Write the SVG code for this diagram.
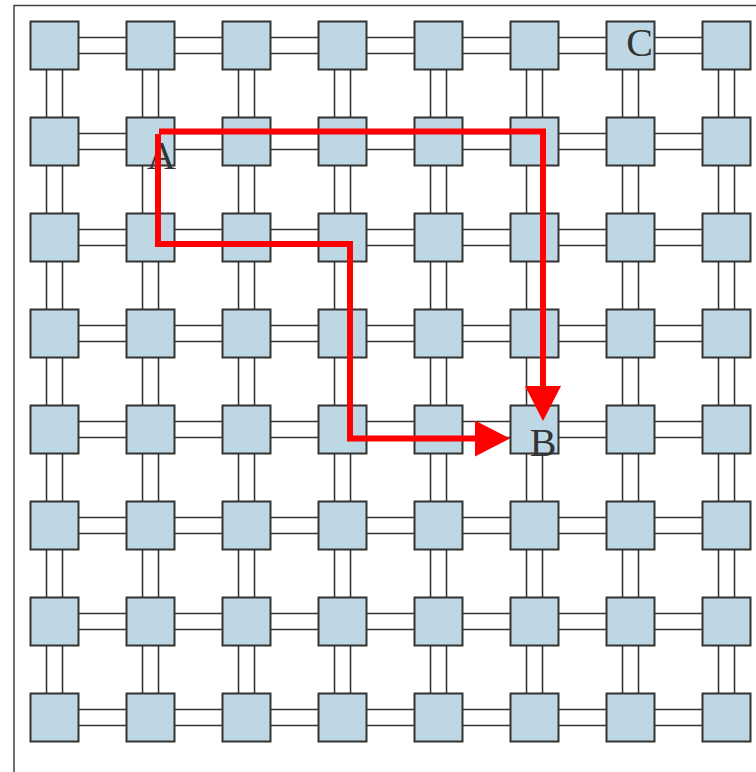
<svg xmlns="http://www.w3.org/2000/svg" width="756" height="772" viewBox="0 0 756 772">
<style>
.frame{fill:none;stroke:#444;stroke-width:1.5}
.node rect{fill:#bed7e4;stroke:#333;stroke-width:2}
.conn path{fill:none;stroke:#333;stroke-width:1.6}
.lbl{font-family:"Liberation Serif","Times New Roman",serif;font-size:40px;fill:#333;text-anchor:middle}
.route{fill:none;stroke:#ff0000;stroke-width:6;stroke-linejoin:miter}
</style>
<defs>
<marker id="ah" markerUnits="userSpaceOnUse" markerWidth="36" markerHeight="36" viewBox="0 0 36 36" refX="1" refY="18" orient="auto"><path d="M0,0L35,18L0,36z" fill="#ff0000"/></marker>
</defs>
<rect class="frame" x="14" y="5.5" width="780" height="800"/>
<g id="connectors" class="conn">
<path d="M78.5,37.5h48M78.5,53.5h48"/><path d="M174.5,37.5h48M174.5,53.5h48"/><path d="M270.5,37.5h48M270.5,53.5h48"/><path d="M366.5,37.5h48M366.5,53.5h48"/><path d="M462.5,37.5h48M462.5,53.5h48"/><path d="M558.5,37.5h48M558.5,53.5h48"/><path d="M654.5,37.5h48M654.5,53.5h48"/>
<path d="M78.5,133.5h48M78.5,149.5h48"/><path d="M174.5,133.5h48M174.5,149.5h48"/><path d="M270.5,133.5h48M270.5,149.5h48"/><path d="M366.5,133.5h48M366.5,149.5h48"/><path d="M462.5,133.5h48M462.5,149.5h48"/><path d="M558.5,133.5h48M558.5,149.5h48"/><path d="M654.5,133.5h48M654.5,149.5h48"/>
<path d="M78.5,229.5h48M78.5,245.5h48"/><path d="M174.5,229.5h48M174.5,245.5h48"/><path d="M270.5,229.5h48M270.5,245.5h48"/><path d="M366.5,229.5h48M366.5,245.5h48"/><path d="M462.5,229.5h48M462.5,245.5h48"/><path d="M558.5,229.5h48M558.5,245.5h48"/><path d="M654.5,229.5h48M654.5,245.5h48"/>
<path d="M78.5,325.5h48M78.5,341.5h48"/><path d="M174.5,325.5h48M174.5,341.5h48"/><path d="M270.5,325.5h48M270.5,341.5h48"/><path d="M366.5,325.5h48M366.5,341.5h48"/><path d="M462.5,325.5h48M462.5,341.5h48"/><path d="M558.5,325.5h48M558.5,341.5h48"/><path d="M654.5,325.5h48M654.5,341.5h48"/>
<path d="M78.5,421.5h48M78.5,437.5h48"/><path d="M174.5,421.5h48M174.5,437.5h48"/><path d="M270.5,421.5h48M270.5,437.5h48"/><path d="M366.5,421.5h48M366.5,437.5h48"/><path d="M462.5,421.5h48M462.5,437.5h48"/><path d="M558.5,421.5h48M558.5,437.5h48"/><path d="M654.5,421.5h48M654.5,437.5h48"/>
<path d="M78.5,517.5h48M78.5,533.5h48"/><path d="M174.5,517.5h48M174.5,533.5h48"/><path d="M270.5,517.5h48M270.5,533.5h48"/><path d="M366.5,517.5h48M366.5,533.5h48"/><path d="M462.5,517.5h48M462.5,533.5h48"/><path d="M558.5,517.5h48M558.5,533.5h48"/><path d="M654.5,517.5h48M654.5,533.5h48"/>
<path d="M78.5,613.5h48M78.5,629.5h48"/><path d="M174.5,613.5h48M174.5,629.5h48"/><path d="M270.5,613.5h48M270.5,629.5h48"/><path d="M366.5,613.5h48M366.5,629.5h48"/><path d="M462.5,613.5h48M462.5,629.5h48"/><path d="M558.5,613.5h48M558.5,629.5h48"/><path d="M654.5,613.5h48M654.5,629.5h48"/>
<path d="M78.5,709.5h48M78.5,725.5h48"/><path d="M174.5,709.5h48M174.5,725.5h48"/><path d="M270.5,709.5h48M270.5,725.5h48"/><path d="M366.5,709.5h48M366.5,725.5h48"/><path d="M462.5,709.5h48M462.5,725.5h48"/><path d="M558.5,709.5h48M558.5,725.5h48"/><path d="M654.5,709.5h48M654.5,725.5h48"/>
<path d="M46.5,69.5v48M62.5,69.5v48"/><path d="M46.5,165.5v48M62.5,165.5v48"/><path d="M46.5,261.5v48M62.5,261.5v48"/><path d="M46.5,357.5v48M62.5,357.5v48"/><path d="M46.5,453.5v48M62.5,453.5v48"/><path d="M46.5,549.5v48M62.5,549.5v48"/><path d="M46.5,645.5v48M62.5,645.5v48"/>
<path d="M142.5,69.5v48M158.5,69.5v48"/><path d="M142.5,165.5v48M158.5,165.5v48"/><path d="M142.5,261.5v48M158.5,261.5v48"/><path d="M142.5,357.5v48M158.5,357.5v48"/><path d="M142.5,453.5v48M158.5,453.5v48"/><path d="M142.5,549.5v48M158.5,549.5v48"/><path d="M142.5,645.5v48M158.5,645.5v48"/>
<path d="M238.5,69.5v48M254.5,69.5v48"/><path d="M238.5,165.5v48M254.5,165.5v48"/><path d="M238.5,261.5v48M254.5,261.5v48"/><path d="M238.5,357.5v48M254.5,357.5v48"/><path d="M238.5,453.5v48M254.5,453.5v48"/><path d="M238.5,549.5v48M254.5,549.5v48"/><path d="M238.5,645.5v48M254.5,645.5v48"/>
<path d="M334.5,69.5v48M350.5,69.5v48"/><path d="M334.5,165.5v48M350.5,165.5v48"/><path d="M334.5,261.5v48M350.5,261.5v48"/><path d="M334.5,357.5v48M350.5,357.5v48"/><path d="M334.5,453.5v48M350.5,453.5v48"/><path d="M334.5,549.5v48M350.5,549.5v48"/><path d="M334.5,645.5v48M350.5,645.5v48"/>
<path d="M430.5,69.5v48M446.5,69.5v48"/><path d="M430.5,165.5v48M446.5,165.5v48"/><path d="M430.5,261.5v48M446.5,261.5v48"/><path d="M430.5,357.5v48M446.5,357.5v48"/><path d="M430.5,453.5v48M446.5,453.5v48"/><path d="M430.5,549.5v48M446.5,549.5v48"/><path d="M430.5,645.5v48M446.5,645.5v48"/>
<path d="M526.5,69.5v48M542.5,69.5v48"/><path d="M526.5,165.5v48M542.5,165.5v48"/><path d="M526.5,261.5v48M542.5,261.5v48"/><path d="M526.5,357.5v48M542.5,357.5v48"/><path d="M526.5,453.5v48M542.5,453.5v48"/><path d="M526.5,549.5v48M542.5,549.5v48"/><path d="M526.5,645.5v48M542.5,645.5v48"/>
<path d="M622.5,69.5v48M638.5,69.5v48"/><path d="M622.5,165.5v48M638.5,165.5v48"/><path d="M622.5,261.5v48M638.5,261.5v48"/><path d="M622.5,357.5v48M638.5,357.5v48"/><path d="M622.5,453.5v48M638.5,453.5v48"/><path d="M622.5,549.5v48M638.5,549.5v48"/><path d="M622.5,645.5v48M638.5,645.5v48"/>
<path d="M718.5,69.5v48M734.5,69.5v48"/><path d="M718.5,165.5v48M734.5,165.5v48"/><path d="M718.5,261.5v48M734.5,261.5v48"/><path d="M718.5,357.5v48M734.5,357.5v48"/><path d="M718.5,453.5v48M734.5,453.5v48"/><path d="M718.5,549.5v48M734.5,549.5v48"/><path d="M718.5,645.5v48M734.5,645.5v48"/>
</g>
<g id="nodes">
<g id="n0-0" class="node"><rect x="30.5" y="21.5" width="48" height="48"/></g><g id="n0-1" class="node"><rect x="126.5" y="21.5" width="48" height="48"/></g><g id="n0-2" class="node"><rect x="222.5" y="21.5" width="48" height="48"/></g><g id="n0-3" class="node"><rect x="318.5" y="21.5" width="48" height="48"/></g><g id="n0-4" class="node"><rect x="414.5" y="21.5" width="48" height="48"/></g><g id="n0-5" class="node"><rect x="510.5" y="21.5" width="48" height="48"/></g><g id="n0-6" class="node"><rect x="606.5" y="21.5" width="48" height="48"/></g><g id="n0-7" class="node"><rect x="702.5" y="21.5" width="48" height="48"/></g>
<g id="n1-0" class="node"><rect x="30.5" y="117.5" width="48" height="48"/></g><g id="n1-1" class="node"><rect x="126.5" y="117.5" width="48" height="48"/></g><g id="n1-2" class="node"><rect x="222.5" y="117.5" width="48" height="48"/></g><g id="n1-3" class="node"><rect x="318.5" y="117.5" width="48" height="48"/></g><g id="n1-4" class="node"><rect x="414.5" y="117.5" width="48" height="48"/></g><g id="n1-5" class="node"><rect x="510.5" y="117.5" width="48" height="48"/></g><g id="n1-6" class="node"><rect x="606.5" y="117.5" width="48" height="48"/></g><g id="n1-7" class="node"><rect x="702.5" y="117.5" width="48" height="48"/></g>
<g id="n2-0" class="node"><rect x="30.5" y="213.5" width="48" height="48"/></g><g id="n2-1" class="node"><rect x="126.5" y="213.5" width="48" height="48"/></g><g id="n2-2" class="node"><rect x="222.5" y="213.5" width="48" height="48"/></g><g id="n2-3" class="node"><rect x="318.5" y="213.5" width="48" height="48"/></g><g id="n2-4" class="node"><rect x="414.5" y="213.5" width="48" height="48"/></g><g id="n2-5" class="node"><rect x="510.5" y="213.5" width="48" height="48"/></g><g id="n2-6" class="node"><rect x="606.5" y="213.5" width="48" height="48"/></g><g id="n2-7" class="node"><rect x="702.5" y="213.5" width="48" height="48"/></g>
<g id="n3-0" class="node"><rect x="30.5" y="309.5" width="48" height="48"/></g><g id="n3-1" class="node"><rect x="126.5" y="309.5" width="48" height="48"/></g><g id="n3-2" class="node"><rect x="222.5" y="309.5" width="48" height="48"/></g><g id="n3-3" class="node"><rect x="318.5" y="309.5" width="48" height="48"/></g><g id="n3-4" class="node"><rect x="414.5" y="309.5" width="48" height="48"/></g><g id="n3-5" class="node"><rect x="510.5" y="309.5" width="48" height="48"/></g><g id="n3-6" class="node"><rect x="606.5" y="309.5" width="48" height="48"/></g><g id="n3-7" class="node"><rect x="702.5" y="309.5" width="48" height="48"/></g>
<g id="n4-0" class="node"><rect x="30.5" y="405.5" width="48" height="48"/></g><g id="n4-1" class="node"><rect x="126.5" y="405.5" width="48" height="48"/></g><g id="n4-2" class="node"><rect x="222.5" y="405.5" width="48" height="48"/></g><g id="n4-3" class="node"><rect x="318.5" y="405.5" width="48" height="48"/></g><g id="n4-4" class="node"><rect x="414.5" y="405.5" width="48" height="48"/></g><g id="n4-5" class="node"><rect x="510.5" y="405.5" width="48" height="48"/></g><g id="n4-6" class="node"><rect x="606.5" y="405.5" width="48" height="48"/></g><g id="n4-7" class="node"><rect x="702.5" y="405.5" width="48" height="48"/></g>
<g id="n5-0" class="node"><rect x="30.5" y="501.5" width="48" height="48"/></g><g id="n5-1" class="node"><rect x="126.5" y="501.5" width="48" height="48"/></g><g id="n5-2" class="node"><rect x="222.5" y="501.5" width="48" height="48"/></g><g id="n5-3" class="node"><rect x="318.5" y="501.5" width="48" height="48"/></g><g id="n5-4" class="node"><rect x="414.5" y="501.5" width="48" height="48"/></g><g id="n5-5" class="node"><rect x="510.5" y="501.5" width="48" height="48"/></g><g id="n5-6" class="node"><rect x="606.5" y="501.5" width="48" height="48"/></g><g id="n5-7" class="node"><rect x="702.5" y="501.5" width="48" height="48"/></g>
<g id="n6-0" class="node"><rect x="30.5" y="597.5" width="48" height="48"/></g><g id="n6-1" class="node"><rect x="126.5" y="597.5" width="48" height="48"/></g><g id="n6-2" class="node"><rect x="222.5" y="597.5" width="48" height="48"/></g><g id="n6-3" class="node"><rect x="318.5" y="597.5" width="48" height="48"/></g><g id="n6-4" class="node"><rect x="414.5" y="597.5" width="48" height="48"/></g><g id="n6-5" class="node"><rect x="510.5" y="597.5" width="48" height="48"/></g><g id="n6-6" class="node"><rect x="606.5" y="597.5" width="48" height="48"/></g><g id="n6-7" class="node"><rect x="702.5" y="597.5" width="48" height="48"/></g>
<g id="n7-0" class="node"><rect x="30.5" y="693.5" width="48" height="48"/></g><g id="n7-1" class="node"><rect x="126.5" y="693.5" width="48" height="48"/></g><g id="n7-2" class="node"><rect x="222.5" y="693.5" width="48" height="48"/></g><g id="n7-3" class="node"><rect x="318.5" y="693.5" width="48" height="48"/></g><g id="n7-4" class="node"><rect x="414.5" y="693.5" width="48" height="48"/></g><g id="n7-5" class="node"><rect x="510.5" y="693.5" width="48" height="48"/></g><g id="n7-6" class="node"><rect x="606.5" y="693.5" width="48" height="48"/></g><g id="n7-7" class="node"><rect x="702.5" y="693.5" width="48" height="48"/></g>
</g>
<g id="labels">
<text class="lbl" x="161.5" y="169">A</text>
<text class="lbl" x="543" y="455.5">B</text>
<text class="lbl" x="639.5" y="56">C</text>
</g>
<g id="routes">
<path class="route" d="M159,131.5H543V387" marker-end="url(#ah)"/>
<path class="route" d="M158,134V244H350V438.5H476" marker-end="url(#ah)"/>
</g>
</svg>
